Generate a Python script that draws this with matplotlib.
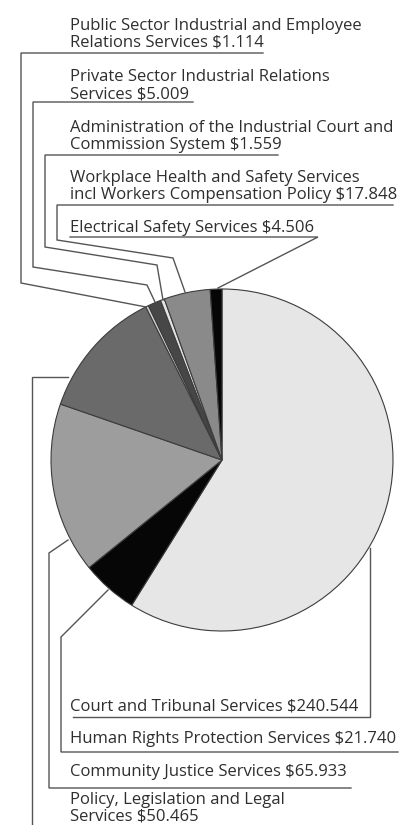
import matplotlib
matplotlib.use('Agg')
import matplotlib.pyplot as plt

# 数据：各项服务支出（百万）
labels = [
    'Court and Tribunal Services $240.544',
    'Human Rights Protection Services $21.740',
    'Community Justice Services $65.933',
    'Policy, Legislation and Legal\nServices $50.465',
    'Public Sector Industrial and Employee\nRelations Services $1.114',
    'Private Sector Industrial Relations\nServices $5.009',
    'Administration of the Industrial Court and\nCommission System $1.559',
    'Workplace Health and Safety Services\nincl Workers Compensation Policy $17.848',
    'Electrical Safety Services $4.506',
]
values = [240.544, 21.740, 65.933, 50.465, 1.114, 5.009, 1.559, 17.848, 4.506]
colors = ['#e6e6e6', '#060606', '#9d9d9d', '#6a6a6a', '#cfcfcf',
          '#474747', '#e4e4e4', '#8a8a8a', '#060606']

W, H = 414, 825

# 标签位置（像素，y向下）：最后一行的基线、引线路径
text_pos = [(70, 711), (70, 743), (70, 776), (70, 821),
            (70, 47), (70, 98), (70, 149), (70, 199), (70, 232)]
leaders = [
    [(73, 717), (370, 717), (370, 548)],
    [(398, 752), (61, 752), (61, 637), (108, 590)],
    [(351, 788), (49, 788), (49, 553), (68, 540)],
    [(32, 830), (32, 377), (68, 377)],
    [(263, 53), (21, 53), (21, 283), (146, 307)],
    [(193, 102), (33, 102), (33, 267), (147, 285), (155, 302)],
    [(278, 155), (45, 155), (45, 247), (157, 265), (163, 300)],
    [(393, 205), (57, 205), (57, 240), (173, 258), (185, 292)],
    [(70, 237), (318, 237), (218, 288)],
]

fig = plt.figure(figsize=(W / 100, H / 100), dpi=100)
ax = fig.add_axes([0, 0, 1, 1])

ax.pie(values, colors=colors, startangle=90, counterclock=False,
       center=(222, H - 460), radius=171,
       wedgeprops=dict(edgecolor='#3c3c3c', linewidth=0.8))

for path in leaders:
    xs = [p[0] for p in path]
    ys = [H - p[1] for p in path]
    ax.plot(xs, ys, color='#555555', lw=1.0, solid_joinstyle='miter')

for lab, (x, y) in zip(labels, text_pos):
    ax.text(x, H - y, lab, fontsize=12, family='Open Sans', color='#2e2e2e',
            ha='left', va='baseline', linespacing=1.05)

ax.set_xlim(0, W)
ax.set_ylim(0, H)
ax.set_aspect('equal')
ax.axis('off')

fig.savefig('out.png', dpi=100, facecolor='white')
